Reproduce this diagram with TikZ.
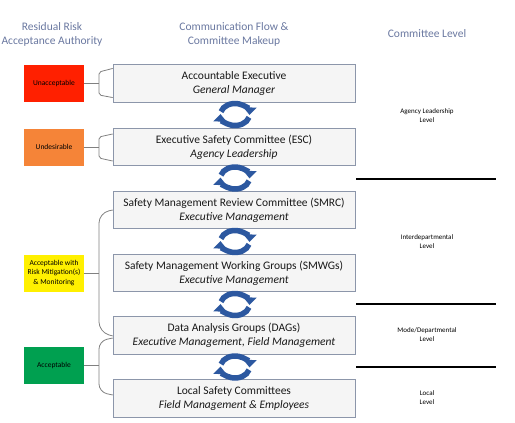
\documentclass[tikz,border=0pt]{standalone}
\usepackage{fontspec}
\setmainfont{Carlito}
\usepackage{tikz}
\usetikzlibrary{shapes,arrows.meta,positioning,calc}
\definecolor{headblue}{RGB}{106,120,160}
\definecolor{boxline}{RGB}{140,150,170}
\definecolor{cycblue}{RGB}{44,88,160}
\definecolor{riskred}{RGB}{255,32,0}
\definecolor{riskorange}{RGB}{245,132,56}
\definecolor{riskyellow}{RGB}{255,240,0}
\definecolor{riskgreen}{RGB}{0,160,80}
\tikzstyle{combox}=[rectangle, draw=boxline, fill=gray!8, semithick, align=center, text=black!90, minimum width=242pt, minimum height=37.5pt, font=\fontsize{11.5}{14}\selectfont]
\tikzstyle{riskbox}=[rectangle, align=center, minimum width=60pt, minimum height=37pt, font=\fontsize{7.5}{9.5}\selectfont]
\tikzstyle{header}=[align=center, text=headblue, font=\fontsize{11.5}{14}\selectfont]
\tikzstyle{levellabel}=[align=center, font=\fontsize{7}{9}\selectfont]
\tikzstyle{bracket}=[draw=black!50, thick]
\tikzstyle{cyclearrow}=[cycblue, line width=5.5pt, -{Triangle[width=13pt,length=7.5pt]}]
\newcommand{\flowcycle}[1]{%
  \draw[cyclearrow] (#1) ++(195:14.5 and 11) arc[start angle=195, end angle=362, x radius=14.5, y radius=11];
  \draw[cyclearrow] (#1) ++(15:14.5 and 11) arc[start angle=15, end angle=182, x radius=14.5, y radius=11];
}

\begin{document}
\begin{tikzpicture}[x=1pt, y=-1pt]
\useasboundingbox (0,0) rectangle (515,423);

\node[header] (h1) at (52,34) {Residual Risk\\Acceptance Authority};
\node[header] (h2) at (234,34) {Communication Flow \&\\Committee Makeup};
\node[header] (h3) at (427,34) {Committee Level};

\node[combox] (b1) at (234,83.5) {Accountable Executive\\\textit{General Manager}};
\node[combox] (b2) at (234,147) {Executive Safety Committee (ESC)\\\textit{Agency Leadership}};
\node[combox] (b3) at (234,210) {Safety Management Review Committee (SMRC)\\\textit{Executive Management}};
\node[combox] (b4) at (234,273) {Safety Management Working Groups (SMWGs)\\\textit{Executive Management}};
\node[combox] (b5) at (234,335.5) {Data Analysis Groups (DAGs)\\\textit{Executive Management, Field Management}};
\node[combox] (b6) at (234,398.5) {Local Safety Committees\\\textit{Field Management \& Employees}};

\node[riskbox, fill=riskred] (r1) at (54,83.5) {Unacceptable};
\node[riskbox, fill=riskorange] (r2) at (54,147) {Undesirable};
\node[riskbox, fill=riskyellow] (r3) at (54,273) {Acceptable with\\Risk Mitigation(s)\\\& Monitoring};
\node[riskbox, fill=riskgreen] (r4) at (54,365.5) {Acceptable};

\node[levellabel] (l1) at (427,115.5) {Agency Leadership\\Level};
\node[levellabel] (l2) at (427,241.5) {Interdepartmental\\Level};
\node[levellabel] (l3) at (427,335) {Mode/Departmental\\Level};
\node[levellabel] (l4) at (427,398) {Local\\Level};

% risk brackets
\draw[bracket] (r1.east) -- ++(15,0);
\draw[bracket, rounded corners=2pt] ($(b1.north west)+(0,4)$) -- (99,72) -- (99,95) -- ($(b1.south west)+(0,-5)$);
\draw[bracket] (r2.east) -- ++(15,0);
\draw[bracket, rounded corners=2pt] ($(b2.north west)+(0,6)$) -- (99,137) -- (99,158) -- ($(b2.south west)+(0,-5)$);
\draw[bracket] (r3.east) -- ++(15,0);
\draw[bracket, rounded corners=10pt] (b3.west) -- (99,213) -- (99,332) -- ($(b5.west)+(0,0.5)$);
\draw[bracket] (r4.east) -- ++(15,0);
\draw[bracket, rounded corners=8pt] ($(b5.west)+(0,2.5)$) -- (99,341) -- (99,392) -- ($(b6.west)+(0,-3.5)$);

% level separators
\draw[very thick] (356,179) -- (496,179);
\draw[very thick] (356,304) -- (496,304);
\draw[very thick] (356,367) -- (496,367);

% communication cycles
\coordinate (c1) at (235,114.5);
\coordinate (c2) at (235,178);
\coordinate (c3) at (235,241.5);
\coordinate (c4) at (235,304.5);
\coordinate (c5) at (235,367);
\foreach \c in {c1,c2,c3,c4,c5} {\flowcycle{\c}}

\end{tikzpicture}
\end{document}
